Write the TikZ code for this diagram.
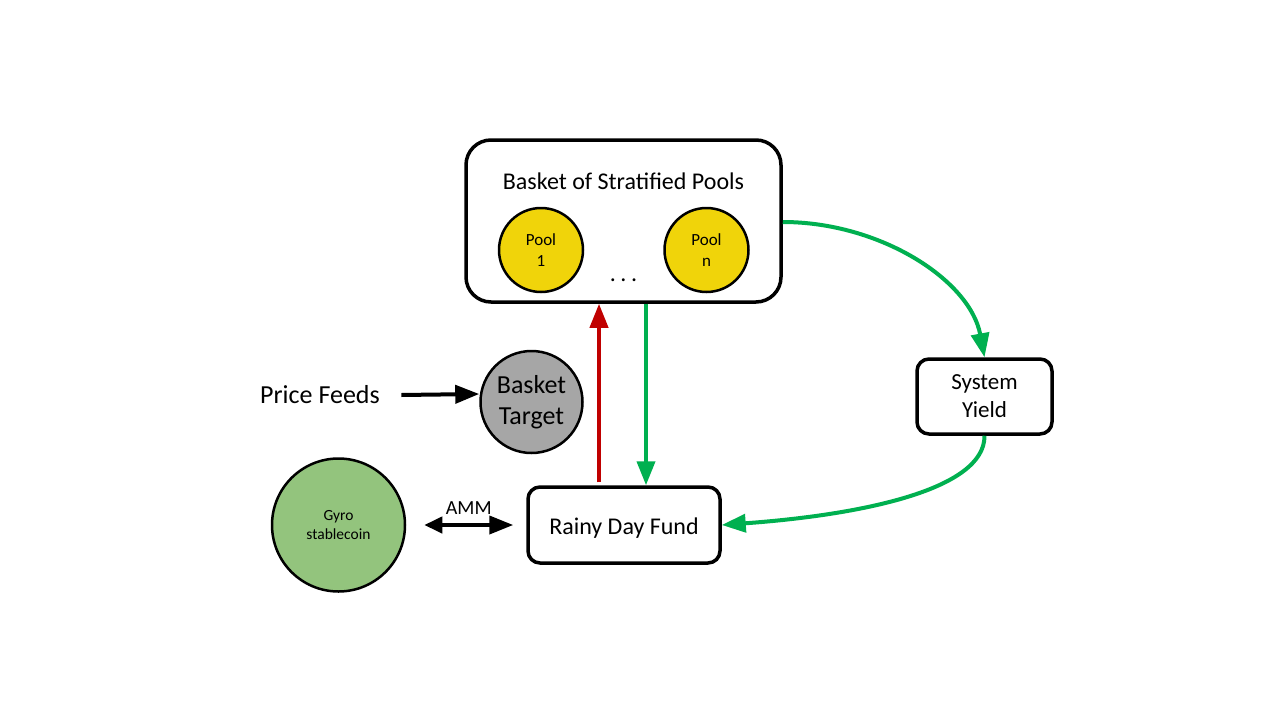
\documentclass[tikz,border=0pt]{standalone}
\usepackage{fontspec}
\setmainfont{Carlito}
\usetikzlibrary{arrows.meta}
\definecolor{ggreen}{RGB}{0,176,80}
\definecolor{dred}{RGB}{192,0,0}
\definecolor{pyellow}{RGB}{240,212,10}
\definecolor{tgray}{RGB}{166,166,166}
\definecolor{sgreen}{RGB}{147,196,125}
\newcommand{\fs}[2]{\fontsize{#1}{#2}\selectfont}
\tikzset{
  rbox/.style={draw=black, line width=3.5pt, fill=white, rounded corners=12pt, align=center, inner sep=0pt},
  circ/.style={circle, draw=black, line width=2.5pt, align=center, inner sep=0pt},
  flow/.style={line width=4pt, -{Triangle[length=24pt,width=18pt]}},
  blk/.style={line width=4pt, black, -{Triangle[length=24pt,width=18pt]}},
  both/.style={line width=4pt, black, {Triangle[length=18pt,width=16pt]}-{Triangle[length=24pt,width=18pt]}},
}
\begin{document}
\begin{tikzpicture}[x=1pt,y=-1pt]
\useasboundingbox[fill=white] (0,0) rectangle (1280,720);
% basket
\node[rbox, rounded corners=25pt, minimum width=315pt, minimum height=162pt] (basket) at (623.5,221) {};
\node[font=\fs{24}{29}] (btitle) at (623.5,181) {Basket of Stratified Pools};
\node[circ, fill=pyellow, minimum size=84pt, font=\fs{17}{21}] (p1) at (541,250) {Pool\\1};
\node[circ, fill=pyellow, minimum size=84pt, font=\fs{17}{21}] (pn) at (706.5,250) {Pool\\n};
\node[font=\fs{24}{29}] (dots) at (623.5,280) {.\hspace{4.5pt}.\hspace{4.5pt}.};
% others
\node[circ, fill=tgray, minimum size=102pt, font=\fs{26}{31}] (bt) at (531.5,402) {Basket\\Target};
\node[font=\fs{26}{31}] (pf) at (320,395) {Price Feeds};
\node[circ, fill=sgreen, minimum size=133pt, font=\fs{15.5}{19}] (gyro) at (338.5,525) {Gyro\\stablecoin};
\node[rbox, minimum width=192pt, minimum height=76pt, font=\fs{24}{29}, text height=21pt, text depth=3pt] (rdf) at (624,525) {Rainy Day Fund};
\node[rbox, minimum width=135pt, minimum height=75pt, font=\fs{23}{28}] (sy) at (984.5,396.5) {System\\Yield};
% connectors
\draw[blk] ([xshift=18pt]pf.east) -- ([yshift=8pt]bt.west);
\draw[both] ([xshift=18pt]gyro.east) -- node[above=5pt, font=\fs{20}{24}] (amm) {AMM} ([xshift=-13pt]rdf.west);
\draw[flow, dred] ([xshift=-25pt,yshift=3pt]rdf.north) -- ([xshift=-25pt]rdf.north |- basket.south);
\draw[flow, ggreen] ([xshift=22.5pt]basket.south) -- ([xshift=22.5pt]basket.south |- rdf.north);
\draw[flow, ggreen] (basket.east |- 0,222) .. controls (880,222) and (970,280) .. (sy.north);
\draw[flow, ggreen] (sy.south) .. controls (985,490) and (860,515) .. (rdf.east);
\end{tikzpicture}
\end{document}
